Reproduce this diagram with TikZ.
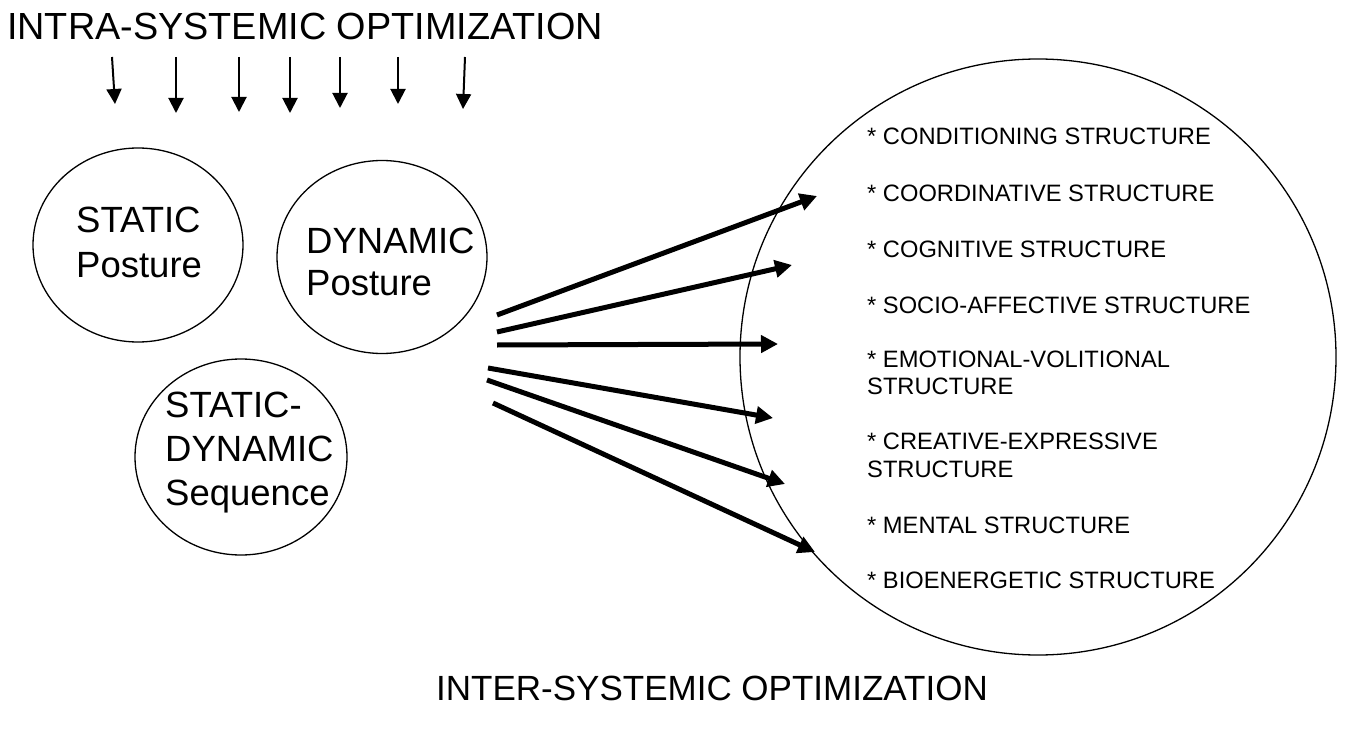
\documentclass[tikz,border=0pt]{standalone}
\usepackage{fontspec}
\setmainfont{Liberation Sans}
\usetikzlibrary{arrows.meta,shapes.geometric}
\begin{document}
\begin{tikzpicture}[x=1pt,y=-1pt,
  title/.style={font=\fontsize{37.8}{45}\selectfont, anchor=base west, inner sep=0pt},
  lbl/.style={font=\fontsize{36.5}{44}\selectfont, anchor=base west, inner sep=0pt},
  item/.style={font=\fontsize{23.7}{28}\selectfont, anchor=base west, inner sep=0pt},
  oval/.style={draw, line width=1.3pt, ellipse, inner sep=0pt},
  round/.style={draw, line width=1.3pt, circle, inner sep=0pt},
  thinarrow/.style={line width=2pt, -{Triangle[length=15pt,width=15pt]}},
  fatarrow/.style={line width=5pt, -{Triangle[length=17pt,width=17pt]}}]
\useasboundingbox (0,0) rectangle (1347,733);

% titles
\node[title] (intra) at (7,40) {INTRA-SYSTEMIC OPTIMIZATION};
\node[title, font=\fontsize{35}{42}\selectfont] (inter) at (436,700) {INTER-SYSTEMIC OPTIMIZATION};

% top arrows
\coordinate (t1) at (112,57); \coordinate (h1) at (115,104);
\coordinate (t2) at (176,57); \coordinate (h2) at (176,113);
\coordinate (t3) at (239,57); \coordinate (h3) at (239,112);
\coordinate (t4) at (290,57); \coordinate (h4) at (290,113);
\coordinate (t5) at (340,57); \coordinate (h5) at (340,108);
\coordinate (t6) at (398,57); \coordinate (h6) at (398,104);
\coordinate (t7) at (465,57); \coordinate (h7) at (463,109);
\foreach \i in {1,...,7} {\draw[thinarrow] (t\i) -- (h\i);}

% small ovals
\node[oval, minimum width=210pt, minimum height=194pt] (static) at (138,245) {};
\node[oval, minimum width=210pt, minimum height=193pt] (dynamic) at (382,257) {};
\node[oval, minimum width=212pt, minimum height=196pt] (seq) at (241,457) {};

\node[lbl] (staticA) at (76,232) {STATIC};
\node[lbl] (staticB) at (76,277) {Posture};
\node[lbl] (dynA) at (306,253) {DYNAMIC};
\node[lbl] (dynB) at (306,295) {Posture};
\node[lbl] (seqA) at (165,417) {STATIC-};
\node[lbl] (seqB) at (165,461) {DYNAMIC};
\node[lbl] (seqC) at (165,505) {Sequence};

% big circle
\node[round, minimum size=596pt] (big) at (1038,357) {};

% fan arrows
\coordinate (f1) at (497,315); \coordinate (g1) at (817,196);
\coordinate (f2) at (497,332); \coordinate (g2) at (792,265);
\coordinate (f3) at (497,345); \coordinate (g3) at (778,344);
\coordinate (f4) at (488,368); \coordinate (g4) at (773,418);
\coordinate (f5) at (487,380); \coordinate (g5) at (785,484);
\coordinate (f6) at (493,403); \coordinate (g6) at (815,552);
\foreach \i in {1,...,6} {\draw[fatarrow] (f\i) -- (g\i);}

% structure list
\node[item] (i1) at (867,145) {* CONDITIONING STRUCTURE};
\node[item] (i2) at (867,201) {* COORDINATIVE STRUCTURE};
\node[item] (i3) at (867,257) {* COGNITIVE STRUCTURE};
\node[item] (i4) at (867,313) {* SOCIO-AFFECTIVE STRUCTURE};
\node[item] (i5a) at (867,367) {* EMOTIONAL-VOLITIONAL};
\node[item] (i5b) at (867,394) {STRUCTURE};
\node[item] (i6a) at (867,449) {* CREATIVE-EXPRESSIVE};
\node[item] (i6b) at (867,477) {STRUCTURE};
\node[item] (i7) at (867,533) {* MENTAL STRUCTURE};
\node[item] (i8) at (867,588) {* BIOENERGETIC STRUCTURE};
\end{tikzpicture}
\end{document}
